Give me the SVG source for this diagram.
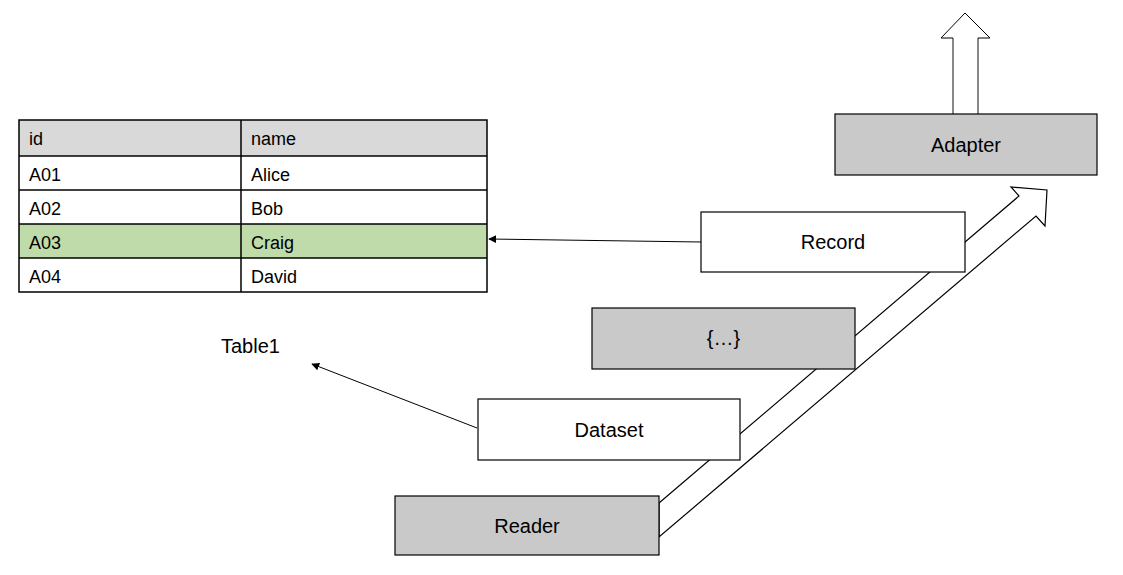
<svg xmlns="http://www.w3.org/2000/svg" width="1123" height="575" viewBox="0 0 1123 575">
<style>
text{font-family:"Liberation Sans",Arial,sans-serif;fill:#000}
.cell{font-size:18px}
.lbl{font-size:20px;text-anchor:middle}
.box{stroke:#000;stroke-width:1.2}
.gray{fill:#c9c9c9}
.white{fill:#fff}
.tl{stroke:#000;stroke-width:1.5;fill:none}
.conn{stroke:#000;stroke-width:1;fill:none}
</style>
<defs>
<marker id="ah" viewBox="0 0 10 10" refX="9" refY="5" markerWidth="8" markerHeight="8" markerUnits="userSpaceOnUse" orient="auto">
<path d="M0,0 L10,5 L0,10 Z" fill="#000"/>
</marker>
</defs>
<rect width="1123" height="575" fill="#fff"/>
<g id="connectors">
<polygon points="659,503 1019,196 1011,187 1047,190 1045,226 1036,216 659,537" fill="#fff" stroke="#000" stroke-width="1.2"/>
<line x1="953" y1="114" x2="953" y2="38" stroke="#888" stroke-width="2"/>
<line x1="978" y1="114" x2="978" y2="38" stroke="#888" stroke-width="2"/>
<polyline points="953,38 941,38 965,13 990,38 978,38" fill="none" stroke="#000" stroke-width="1"/>
<line class="conn" x1="701" y1="242" x2="489" y2="239" marker-end="url(#ah)"/>
<line class="conn" x1="477" y1="428" x2="312" y2="364" marker-end="url(#ah)"/>
</g>
<g id="table">
<rect x="19" y="120" width="468" height="36" fill="#d9d9d9"/>
<rect x="19" y="224" width="468" height="34" fill="#bfdba9"/>
<rect class="tl" x="19" y="120" width="468" height="172"/>
<line class="tl" x1="19" y1="156" x2="487" y2="156"/>
<line class="tl" x1="19" y1="190" x2="487" y2="190"/>
<line class="tl" x1="19" y1="224" x2="487" y2="224"/>
<line class="tl" x1="19" y1="258" x2="487" y2="258"/>
<line class="tl" x1="241" y1="120" x2="241" y2="292"/>
<text class="cell" x="29" y="145">id</text>
<text class="cell" x="251" y="145">name</text>
<text class="cell" x="29" y="181">A01</text>
<text class="cell" x="251" y="181">Alice</text>
<text class="cell" x="29" y="215">A02</text>
<text class="cell" x="251" y="215">Bob</text>
<text class="cell" x="29" y="249">A03</text>
<text class="cell" x="251" y="249">Craig</text>
<text class="cell" x="29" y="283">A04</text>
<text class="cell" x="251" y="283">David</text>
</g>
<g id="table1">
<text x="221" y="353" style="font-size:20px">Table1</text>
</g>
<g id="adapter">
<rect class="box gray" x="835" y="114" width="262" height="61"/>
<text class="lbl" x="966" y="152">Adapter</text>
</g>
<g id="record">
<rect class="box white" x="701" y="212" width="264" height="60"/>
<text class="lbl" x="833" y="249">Record</text>
</g>
<g id="item">
<rect class="box gray" x="592" y="308" width="263" height="61"/>
<text class="lbl" x="723.5" y="345">{…}</text>
</g>
<g id="dataset">
<rect class="box white" x="478" y="399" width="262" height="61"/>
<text class="lbl" x="609" y="437">Dataset</text>
</g>
<g id="reader">
<rect class="box gray" x="395" y="496" width="264" height="59"/>
<text class="lbl" x="527" y="533">Reader</text>
</g>
</svg>
